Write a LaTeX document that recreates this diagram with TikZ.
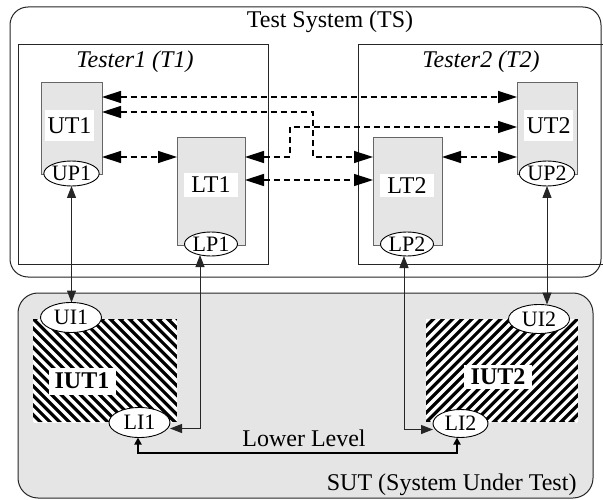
\documentclass[tikz,border=0pt]{standalone}
\usepackage{fontspec}
\setmainfont{Liberation Serif}
\usetikzlibrary{arrows.meta,calc,shapes.geometric}
\begin{document}
\begin{tikzpicture}[x=1pt,y=-1pt,
  font=\fontsize{24}{28}\selectfont,
  container/.style={draw=black!85, line width=1pt, inner sep=0pt, outer sep=0pt},
  graybox/.style={draw=black!60, fill=black!10, line width=1pt, inner sep=0pt, outer sep=0pt},
  lbl/.style={fill=white, inner sep=0pt},
  port/.style={ellipse, draw=black, fill=white, line width=0.9pt, inner sep=0pt, outer sep=0pt, font=\fontsize{22}{26}\selectfont},
  hatchbox/.style={inner sep=0pt, outer sep=0pt},
  dasharrow/.style={draw=black, line width=1.4pt, dash pattern=on 6pt off 4pt, {Triangle[length=19pt,width=12pt]}-{Triangle[length=19pt,width=12pt]}},
  solidarrow/.style={draw=black!85, line width=1pt, {Triangle[length=12pt,width=9pt]}-{Triangle[length=12pt,width=9pt]}},
  lowarrow/.style={draw=black, line width=2pt, {Triangle[length=7pt,width=7pt]}-{Triangle[length=7pt,width=7pt]}},
]
\useasboundingbox (0,0) rectangle (603,500);
\clip (0,0) rectangle (603,500);
\fill[white] (0,0) rectangle (603,500);

% containers
\node[container, rounded corners=18pt, minimum width=591pt, minimum height=270pt] (ts) at (305.5,142) {};
\node (tstitle) at (330,22) {Test System (TS)};
\node[container, minimum width=250pt, minimum height=219pt] (t1) at (143,154.5) {};
\node (t1title) at (135,62) {\itshape Tester1 (T1)};
\node[container, minimum width=262pt, minimum height=219pt] (t2) at (489,154.5) {};
\node (t2title) at (481,62) {\itshape Tester2 (T2)};

\node[container, fill=black!10, rounded corners=20pt, minimum width=575pt, minimum height=205pt] (sut) at (305.5,395.5) {};
\node[anchor=east] (sutlabel) at (580,485) {SUT (System Under Test)};

% test components
\node[graybox, minimum width=61pt, minimum height=92pt] (ut1) at (71.5,129) {};
\node[lbl, minimum width=49pt, minimum height=31pt] (ut1l) at (69.5,125.5) {UT1};
\node[port, minimum width=53pt, minimum height=25pt] (up1) at (71.5,173.5) {UP1};

\node[graybox, minimum width=68pt, minimum height=107pt] (lt1) at (211,191.5) {};
\node[lbl, minimum width=54pt, minimum height=24pt] (lt1l) at (211,185) {LT1};
\node[port, minimum width=53pt, minimum height=24pt] (lp1) at (211,244) {LP1};

\node[graybox, minimum width=60pt, minimum height=92pt] (ut2) at (547,129) {};
\node[lbl, minimum width=49pt, minimum height=31pt] (ut2l) at (548.5,125.5) {UT2};
\node[port, minimum width=53pt, minimum height=25pt] (up2) at (547,173.5) {UP2};

\node[graybox, minimum width=69pt, minimum height=107pt] (lt2) at (407.5,191.5) {};
\node[lbl, minimum width=54pt, minimum height=23pt] (lt2l) at (407,185.5) {LT2};
\node[port, minimum width=53pt, minimum height=24pt] (lp2) at (407,244) {LP2};

% IUTs
\node[hatchbox, minimum width=144pt, minimum height=103pt] (iut1) at (105,370.5) {};
\begin{scope}
  \clip (iut1.north west) rectangle (iut1.south east);
  \fill[black] (iut1.north west) rectangle (iut1.south east);
  \foreach \k in {0,...,28}
    \draw[white, line width=3.3pt] ($(iut1.north west)+(\k*9.6-110,0)$) -- ++(110,110);
\end{scope}
\node[lbl, minimum width=67pt, minimum height=27pt, font=\fontsize{24}{28}\selectfont\bfseries] (iut1l) at (82,381) {IUT1};

\node[hatchbox, minimum width=152pt, minimum height=103pt] (iut2) at (502,370.5) {};
\begin{scope}
  \clip (iut2.north west) rectangle (iut2.south east);
  \fill[black] (iut2.north west) rectangle (iut2.south east);
  \foreach \k in {0,...,30}
    \draw[white, line width=3.3pt] ($(iut2.south west)+(\k*9.6-110,0)$) -- ++(110,-110);
\end{scope}
\node[lbl, minimum width=68pt, minimum height=24pt, font=\fontsize{24}{28}\selectfont\bfseries] (iut2l) at (498,377) {IUT2};

\node[port, minimum width=61pt, minimum height=30pt] (ui1) at (71,317.5) {UI1};
\node[port, minimum width=61pt, minimum height=30pt] (li1) at (139.5,422.5) {LI1};
\node[port, minimum width=61pt, minimum height=29pt] (ui2) at (539,319) {UI2};
\node[port, minimum width=55pt, minimum height=28pt] (li2) at (460.5,423.5) {LI2};

\node (lowlabel) at (304,438) {Lower Level};

% dashed connectors
\draw[dasharrow] ($(ut1.north east)+(0,14)$) -- ($(ut2.north west)+(0,14)$);
\draw[dasharrow] ($(ut1.north east)+(0,29)$) -| ($(lt2.north west)+(-60,19)$) -- ($(lt2.north west)+(0,19)$);
\draw[dasharrow] ($(lt1.north east)+(0,19)$) -- ($(lt1.north east)+(45,19)$) |- ($(ut2.north west)+(0,44)$);
\draw[dasharrow] ($(ut1.north east)+(0,74)$) -- ($(lt1.north west)+(0,19)$);
\draw[dasharrow] ($(lt2.north east)+(0,19)$) -- ($(ut2.north west)+(0,74)$);
\draw[dasharrow] ($(lt1.north east)+(0,42)$) -- ($(lt2.north west)+(0,42)$);

% solid connectors
\draw[solidarrow] (up1.south) -- (up1.south |- ui1.north);
\draw[solidarrow] ($(lp1.south)+(-11,-1)$) |- ($(li1.east)+(0,6)$);
\draw[solidarrow] (up2.south) -- (up2.south |- ui2.north);
\draw[solidarrow] ($(lp2.south)+(-3,0)$) |- ($(li2.west)+(0,6)$);
\draw[lowarrow] ($(li1.south)+(-1.5,0)$) -- ++(0,15) -| ($(li2.south)+(-3.5,0)$);
\end{tikzpicture}
\end{document}
